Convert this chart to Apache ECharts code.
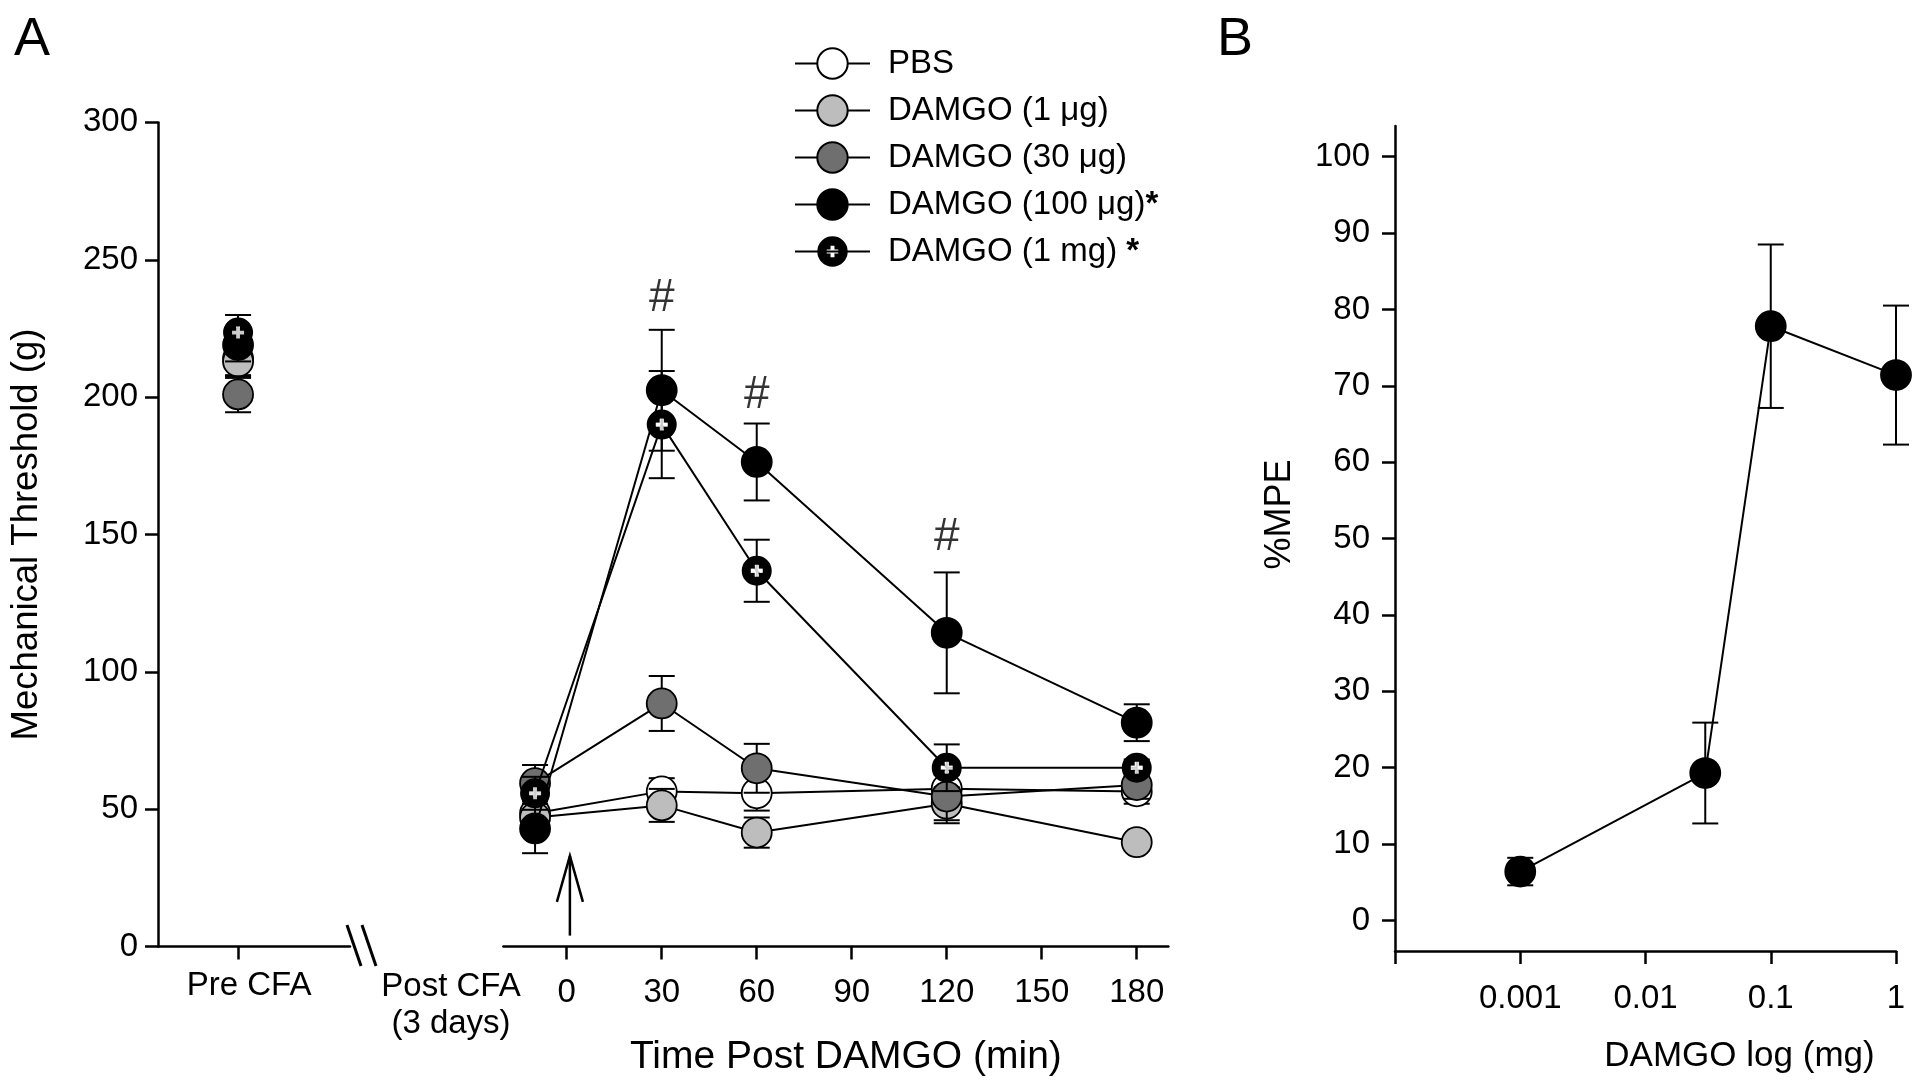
<!DOCTYPE html>
<html>
<head>
<meta charset="utf-8">
<title>DAMGO</title>
<script src="https://cdn.jsdelivr.net/npm/echarts@6/dist/echarts.min.js"></script>
<style>
  html, body { margin: 0; padding: 0; background: #fff; }
  #chart { width: 1920px; height: 1091px; }
</style>
</head>
<body>
<div id="chart"></div>
<script>
const FONT = '"Liberation Sans", Arial, Helvetica, sans-serif';

// ---- panel A data ----
const groupNames = ['PBS', 'DAMGO (1 μg)', 'DAMGO (30 μg)', 'DAMGO (100 μg)', 'DAMGO (1 mg)'];
const groupFill = ['#ffffff', '#bdbdbd', '#6f6f6f', '#000000', '#000000'];
const timePoints = [-10, 30, 60, 120, 180];   // -10 = post CFA baseline
const timeTicks = [0, 30, 60, 90, 120, 150, 180];
const preCfaTick = 0.417;

const preCfaMean = [214, 213, 201, 219, 223.5];
const preCfaSem = [6, 6, 6.5, 6, 6.4];

const pbsMean = [48.5, 56.5, 55.8, 57.5, 56.5];
const pbsSem = [5, 4.8, 6.3, 5, 4.5];
const ug1Mean = [47, 51.4, 41.5, 52, 38];
const ug1Sem = [5, 6, 5.5, 6, 2.5];
const ug30Mean = [59.5, 88.5, 64.9, 54.6, 58.8];
const ug30Sem = [6.6, 10, 8.9, 9.7, 5];
const ug100Mean = [43, 202.5, 176.4, 114.2, 81.5];
const ug100Sem = [9, 22, 14, 22, 6.7];
const mg1Mean = [55.8, 190, 136.8, 65.1, 65.1];
const mg1Sem = [6, 19.5, 11.3, 8.5, 3];

const timeMeans = [pbsMean, ug1Mean, ug30Mean, ug100Mean, mg1Mean];
const timeSems = [pbsSem, ug1Sem, ug30Sem, ug100Sem, mg1Sem];

// significance marks
const hashTimes = [30, 60, 120];
const hashLevels = [236, 200.5, 149];

// ---- panel B data ----
const doseMg = [0.001, 0.03, 0.1, 1];
const mpeMean = [6.4, 19.3, 77.8, 71.4];
const mpeSem = [1.8, 6.6, 10.7, 9.1];

// circle with a plus-shaped hole (legend shows the white plus)
const PLUS_HOLE = 'path://M50,0 A50,50 0 1,1 50,100 A50,50 0 1,1 50,0 Z ' +
  'M43.5,31 V43.5 H31 V56.5 H43.5 V69 H56.5 V56.5 H69 V43.5 H56.5 V31 Z';
const PLUS = 'path://M44,31 H56 V44 H69 V56 H56 V69 H44 V56 H31 V44 H44 Z';

const axisLine = { show: true, onZero: false, lineStyle: { color: '#000', width: 2.5 } };
const axisTick = { show: true, inside: false, length: 13, lineStyle: { color: '#000', width: 2.5 } };
const labelStyle = { color: '#000', fontFamily: FONT, fontSize: 33 };

function errorBars(xi, yi, pts, z) {
  return {
    type: 'custom', xAxisIndex: xi, yAxisIndex: yi, z: z, silent: true, animation: false,
    data: pts,
    encode: { x: 0, y: [1, 2] },
    renderItem: function (params, api) {
      const top = api.coord([api.value(0), api.value(2)]);
      const bot = api.coord([api.value(0), api.value(1)]);
      const h = 13;
      const st = { stroke: '#000', lineWidth: 2 };
      return {
        type: 'group', children: [
          { type: 'line', shape: { x1: top[0], y1: top[1], x2: bot[0], y2: bot[1] }, style: st },
          { type: 'line', shape: { x1: top[0] - h, y1: top[1], x2: top[0] + h, y2: top[1] }, style: st },
          { type: 'line', shape: { x1: bot[0] - h, y1: bot[1], x2: bot[0] + h, y2: bot[1] }, style: st }
        ]
      };
    }
  };
}

function groupLine(i, xi, yi, data) {
  return {
    type: 'line', name: groupNames[i], xAxisIndex: xi, yAxisIndex: yi, data: data,
    z: 11 + 2 * i, animation: false,
    symbol: i === 4 ? PLUS_HOLE : 'circle', symbolSize: 30, showAllSymbol: true,
    itemStyle: { color: groupFill[i], borderColor: '#000', borderWidth: i === 4 ? 0 : 1.8 },
    lineStyle: { color: '#000', width: 2 },
    emphasis: { disabled: true }
  };
}

const series = [];
// time course (first, so the legend takes its icons from these)
groupNames.forEach(function (n, i) {
  const m = timeMeans[i], s = timeSems[i];
  series.push(errorBars(1, 1, timePoints.map(function (t, k) { return [t, m[k] - s[k], m[k] + s[k]]; }), 10 + 2 * i));
  series.push(groupLine(i, 1, 1, timePoints.map(function (t, k) { return [t, m[k]]; })));
});
// pre CFA
groupNames.forEach(function (n, i) {
  series.push(errorBars(0, 0, [[preCfaTick, preCfaMean[i] - preCfaSem[i], preCfaMean[i] + preCfaSem[i]]], 10 + 2 * i));
  series.push(groupLine(i, 0, 0, [[preCfaTick, preCfaMean[i]]]));
});
// white plus on the 1 mg markers
[[0, [[preCfaTick, preCfaMean[4]]]], [1, timePoints.map(function (t, k) { return [t, mg1Mean[k]]; })]].forEach(function (p) {
  series.push({
    type: 'scatter', xAxisIndex: p[0], yAxisIndex: p[0], data: p[1], z: 30, silent: true, animation: false,
    symbol: PLUS, symbolSize: 12, itemStyle: { color: '#fff' }, emphasis: { disabled: true }
  });
});
// # marks
series.push({
  type: 'scatter', xAxisIndex: 1, yAxisIndex: 1, z: 30, silent: true, animation: false,
  data: hashTimes.map(function (t, k) { return [t, hashLevels[k]]; }),
  symbolSize: 1, itemStyle: { color: 'rgba(0,0,0,0)' },
  label: { show: true, position: 'inside', formatter: '#', color: '#000', fontFamily: FONT, fontSize: 46 }
});
// injection arrow at t = 0
series.push({
  type: 'custom', xAxisIndex: 1, yAxisIndex: 1, z: 5, silent: true, animation: false,
  data: [[1, 4, 33]],
  renderItem: function (params, api) {
    const base = api.coord([api.value(0), api.value(1)]);
    const tip = api.coord([api.value(0), api.value(2)]);
    const st = { stroke: '#000', lineWidth: 2.5, fill: null };
    return {
      type: 'group', children: [
        { type: 'line', shape: { x1: base[0], y1: base[1], x2: tip[0], y2: tip[1] }, style: st },
        { type: 'polyline', shape: { points: [[tip[0] - 13, tip[1] + 46], [tip[0], tip[1]], [tip[0] + 13, tip[1] + 46]] }, style: st }
      ]
    };
  }
});
// panel B
series.push(errorBars(2, 2, doseMg.map(function (d, k) { return [d, mpeMean[k] - mpeSem[k], mpeMean[k] + mpeSem[k]]; }), 10));
series.push({
  type: 'line', xAxisIndex: 2, yAxisIndex: 2, z: 11, animation: false,
  data: doseMg.map(function (d, k) { return [d, mpeMean[k]]; }),
  symbol: 'circle', symbolSize: 30,
  itemStyle: { color: '#000', borderColor: '#000', borderWidth: 1.8 },
  lineStyle: { color: '#000', width: 2 },
  emphasis: { disabled: true }
});

function title(size, extra) {
  return Object.assign({ color: '#000', fontFamily: FONT, fontSize: size }, extra || {});
}

const option = {
  backgroundColor: '#fff',
  animation: false,
  grid: [
    { left: 158, top: 122.4, width: 192, height: 824.2, outerBoundsMode: 'none' },
    { left: 503.4, top: 122.4, width: 665, height: 824.2, outerBoundsMode: 'none' },
    { left: 1395, top: 126.1, width: 501, height: 824.9, outerBoundsMode: 'none' }
  ],
  xAxis: [
    {
      gridIndex: 0, type: 'value', min: 0, max: 1,
      axisLine: axisLine, splitLine: { show: false },
      axisTick: Object.assign({ customValues: [preCfaTick] }, axisTick),
      axisLabel: Object.assign({ customValues: [preCfaTick], margin: 23, padding: [0, 0, 0, 22],
        formatter: function () { return 'Pre CFA'; } }, labelStyle)
    },
    {
      gridIndex: 1, type: 'value', min: -20, max: 190,
      axisLine: axisLine, splitLine: { show: false },
      axisTick: Object.assign({ customValues: timeTicks }, axisTick),
      axisLabel: Object.assign({ customValues: timeTicks, margin: 30 }, labelStyle),
      name: 'Time Post DAMGO (min)', nameLocation: 'middle', nameGap: 91,
      nameTextStyle: title(39, { padding: [0, 0, 0, 20] })
    },
    {
      gridIndex: 2, type: 'log', logBase: 10, min: 0.0001, max: 1,
      axisLine: axisLine, splitLine: { show: false }, minorTick: { show: false },
      axisTick: axisTick,
      axisLabel: Object.assign({ margin: 31, showMinLabel: true, showMaxLabel: true,
        formatter: function (v) { return v < 0.0005 ? '' : String(+v.toPrecision(3)); } }, labelStyle),
      name: 'DAMGO log (mg)', nameLocation: 'middle', nameGap: 88,
      nameTextStyle: title(35, { padding: [0, 0, 0, 188] })
    }
  ],
  yAxis: [
    {
      gridIndex: 0, type: 'value', min: 0, max: 300, interval: 50,
      axisLine: axisLine, axisTick: axisTick, splitLine: { show: false },
      axisLabel: Object.assign({ margin: 20 }, labelStyle),
      name: 'Mechanical Threshold (g)', nameLocation: 'middle', nameGap: 113, nameTextStyle: title(36.5)
    },
    { gridIndex: 1, type: 'value', min: 0, max: 300, show: false },
    {
      gridIndex: 2, type: 'value', min: -4, max: 104,
      axisLine: axisLine, splitLine: { show: false },
      axisTick: Object.assign({ customValues: [0, 10, 20, 30, 40, 50, 60, 70, 80, 90, 100] }, axisTick),
      axisLabel: Object.assign({ customValues: [0, 10, 20, 30, 40, 50, 60, 70, 80, 90, 100], margin: 25 }, labelStyle),
      name: '%MPE', nameLocation: 'middle', nameGap: 97,
      nameTextStyle: title(36, { padding: [0, 0, 0, 48] })
    }
  ],
  legend: {
    data: groupNames, orient: 'vertical', left: 789, top: 42,
    itemWidth: 75, itemHeight: 38, itemGap: 14, selectedMode: false,
    formatter: function (name) {
      if (name === 'DAMGO (100 μg)') return '{t|' + name + '}{s|*}';
      if (name === 'DAMGO (1 mg)') return '{t|' + name + ' }{s|*}';
      return '{t|' + name + '}';
    },
    textStyle: {
      padding: [0, 0, 0, 13],
      rich: {
        t: { color: '#000', fontFamily: FONT, fontSize: 33, lineHeight: 33 },
        s: { color: '#000', fontFamily: FONT, fontSize: 33, fontWeight: 'bold', lineHeight: 33 }
      }
    }
  },
  graphic: [
    { type: 'text', left: 14, top: 13, style: { text: 'A', fill: '#000', font: '54px ' + FONT } },
    { type: 'text', left: 1217, top: 13, style: { text: 'B', fill: '#000', font: '54px ' + FONT } },
    { type: 'text', x: 451, y: 968, style: { text: 'Post CFA\n(3 days)', fill: '#000', fontFamily: FONT, fontSize: 33,
      lineHeight: 37, align: 'center', verticalAlign: 'top' } },
    { type: 'line', shape: { x1: 347, y1: 925, x2: 361, y2: 966 }, style: { stroke: '#000', lineWidth: 3 } },
    { type: 'line', shape: { x1: 362, y1: 925, x2: 376, y2: 966 }, style: { stroke: '#000', lineWidth: 3 } }
  ],
  series: series
};

const chart = echarts.init(document.getElementById('chart'), null, { renderer: 'canvas' });
chart.setOption(option);
</script>
</body>
</html>
